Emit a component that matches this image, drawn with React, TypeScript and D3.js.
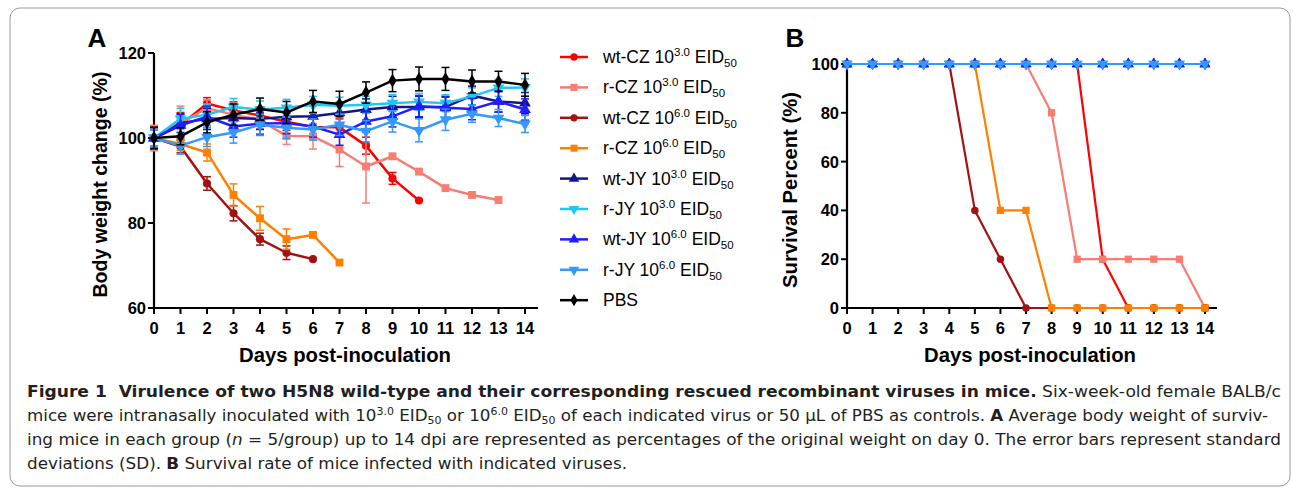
import React from "react";
import * as d3 from "d3";

// ---------- data ----------
const days = d3.range(0, 15);
const yTicksA = [60, 80, 100, 120];
const yTicksB = [0, 20, 40, 60, 80, 100];

// Panel A: mean body weight (%) and SD per day
const wtCZ3 = [100, 103.0, 108.1, 106.5, 105.3, 103.8, 102.6, 102.5, 98.2, 90.5, 85.3];
const wtCZ3sd = [2.8, 3.0, 1.4, 2.0, 2.0, 2.0, 2.0, 2.0, 2.0, 1.4, 0];
const rCZ3 = [100, 103.5, 107.0, 105.5, 104.2, 100.5, 100.4, 97.3, 93.3, 95.7, 92.1, 88.2, 86.6, 85.4];
const rCZ3sd = [3.0, 4.0, 2.0, 2.5, 2.0, 2.0, 3.0, 4.0, 8.6, 0, 0, 0, 0, 0];
const wtCZ6 = [100, 98.0, 89.3, 82.3, 76.2, 73.0, 71.5];
const wtCZ6sd = [2.5, 1.5, 1.6, 1.8, 1.4, 1.6, 0];
const rCZ6 = [100, 98.6, 96.6, 86.6, 81.1, 76.2, 77.2, 70.7];
const rCZ6sd = [2.0, 1.5, 2.0, 2.6, 2.8, 2.4, 0, 0];
const wtJY3 = [100, 103.5, 104.5, 104.7, 104.5, 105.0, 105.1, 105.9, 106.7, 107.3, 107.3, 107.3, 110.0, 108.6, 108.2];
const wtJY3sd = [2.0, 2.2, 2.5, 2.5, 2.5, 2.5, 2.5, 2.5, 2.5, 2.5, 2.5, 2.5, 2.2, 2.5, 2.5];
const rJY3 = [100, 104.5, 105.5, 107.3, 106.7, 107.1, 107.8, 107.6, 107.8, 108.2, 108.5, 108.2, 109.8, 111.8, 111.9];
const rJY3sd = [2.0, 2.5, 2.5, 2.0, 2.0, 2.0, 2.0, 2.0, 2.0, 2.0, 2.0, 2.0, 2.0, 2.0, 2.0];
const wtJY6 = [100, 103.0, 105.0, 102.7, 103.4, 103.5, 102.7, 100.8, 103.9, 105.1, 107.5, 107.1, 106.8, 108.6, 106.7];
const wtJY6sd = [2.0, 2.5, 2.5, 2.5, 2.5, 2.5, 2.5, 2.5, 2.5, 2.5, 2.5, 2.5, 2.5, 2.5, 2.5];
const rJY6 = [100, 98.2, 100.2, 101.3, 103.1, 102.4, 102.0, 103.1, 101.6, 103.9, 101.8, 104.3, 105.7, 104.7, 103.3];
const rJY6sd = [2.0, 2.0, 2.2, 2.5, 2.5, 2.5, 2.5, 2.5, 2.5, 2.5, 2.7, 2.5, 2.0, 2.0, 2.0];
const pbs = [100, 100.4, 103.7, 105.5, 106.8, 106.0, 108.6, 108.0, 110.7, 113.5, 113.9, 113.9, 113.3, 113.3, 112.5];
const pbsSd = [2.5, 2.0, 2.5, 2.5, 2.6, 2.6, 2.6, 3.0, 2.5, 2.6, 2.8, 2.7, 2.7, 2.4, 2.7];

// Panel B: survival percent per day
const survWtCZ3 = [100, 100, 100, 100, 100, 100, 100, 100, 100, 100, 20, 0, 0, 0, 0];
const survRCZ3 = [100, 100, 100, 100, 100, 100, 100, 100, 80, 20, 20, 20, 20, 20, 0];
const survWtCZ6 = [100, 100, 100, 100, 100, 40, 20, 0, 0, 0, 0, 0, 0, 0, 0];
const survRCZ6 = [100, 100, 100, 100, 100, 100, 40, 40, 0, 0, 0, 0, 0, 0, 0];
const survAll = [100, 100, 100, 100, 100, 100, 100, 100, 100, 100, 100, 100, 100, 100, 100];

type S = {
  label: string; sup: string; color: string; sym: string;
  w: number[]; sd: number[]; surv: number[];
};

const series: S[] = [
  { label: "wt-CZ 10", sup: "3.0", color: "#ff0000", sym: "circle", w: wtCZ3, sd: wtCZ3sd, surv: survWtCZ3 },
  { label: "r-CZ 10", sup: "3.0", color: "#f87c72", sym: "square", w: rCZ3, sd: rCZ3sd, surv: survRCZ3 },
  { label: "wt-CZ 10", sup: "6.0", color: "#a31212", sym: "circle", w: wtCZ6, sd: wtCZ6sd, surv: survWtCZ6 },
  { label: "r-CZ 10", sup: "6.0", color: "#ff8000", sym: "square", w: rCZ6, sd: rCZ6sd, surv: survRCZ6 },
  { label: "wt-JY 10", sup: "3.0", color: "#14148c", sym: "up", w: wtJY3, sd: wtJY3sd, surv: survAll },
  { label: "r-JY 10", sup: "3.0", color: "#1ec8f5", sym: "down", w: rJY3, sd: rJY3sd, surv: survAll },
  { label: "wt-JY 10", sup: "6.0", color: "#1e1eff", sym: "up", w: wtJY6, sd: wtJY6sd, surv: survAll },
  { label: "r-JY 10", sup: "6.0", color: "#3399ff", sym: "down", w: rJY6, sd: rJY6sd, surv: survAll },
  { label: "PBS", sup: "", color: "#000000", sym: "diamond", w: pbs, sd: pbsSd, surv: survAll },
];

// ---------- helpers ----------
const symPath = (s: string, scale = 1) => {
  const gen = d3.symbol();
  if (s === "circle") return gen.type(d3.symbolCircle).size(52 * scale)()!;
  if (s === "square") return gen.type(d3.symbolSquare).size(62 * scale)()!;
  if (s === "diamond") return gen.type(d3.symbolDiamond).size(55 * scale)()!;
  return gen.type(d3.symbolTriangle).size(60 * scale)()!;
};
const symTransform = (s: string, x: number, y: number) =>
  s === "down" ? `translate(${x},${y}) rotate(180)` : `translate(${x},${y})`;

const FONT = "Arial, 'Liberation Sans', Helvetica, sans-serif";
const CAP = "'Liberation Sans Narrow', 'DejaVu Sans Condensed', 'Open Sans', sans-serif";

const xA = d3.scaleLinear().domain([0, 14]).range([154, 525]);
const yA = d3.scaleLinear().domain([60, 120]).range([308, 53]);
const xB = d3.scaleLinear().domain([0, 14]).range([847, 1205]);
const yB = d3.scaleLinear().domain([0, 100]).range([308, 64]);

function Axes({ x, y, yTicks, xEnd, title, titleX, yTitle, yTitleX, yTitleLen, letter, letterX }: any) {
  const x0 = x.range()[0];
  const yBot = y.range()[0];
  const yTop = y.range()[1];
  return (
    <g fontFamily={FONT} fontWeight="bold" fill="#000">
      <line x1={x0} x2={xEnd} y1={yBot} y2={yBot} stroke="#000" strokeWidth={2.2} />
      <line x1={x0} x2={x0} y1={yBot} y2={yTop} stroke="#000" strokeWidth={2.2} />
      {days.map((d) => (
        <g key={"xt" + d}>
          <line x1={x(d)} x2={x(d)} y1={yBot} y2={yBot + 6} stroke="#000" strokeWidth={2} />
          <text x={x(d)} y={yBot + 26} textAnchor="middle" fontSize={16.5}>{d}</text>
        </g>
      ))}
      {yTicks.map((t: number) => (
        <g key={"yt" + t}>
          <line x1={x0 - 6} x2={x0} y1={y(t)} y2={y(t)} stroke="#000" strokeWidth={2} />
          <text x={x0 - 8} y={y(t) + 6} textAnchor="end" fontSize={16.5}>{t}</text>
        </g>
      ))}
      <text x={titleX} y={362} textAnchor="middle" fontSize={19.5} textLength={212} lengthAdjust="spacingAndGlyphs">{title}</text>
      <text transform={`translate(${yTitleX},${(yBot + yTop) / 2 + 4}) rotate(-90)`} textAnchor="middle" fontSize={19.5}
        textLength={yTitleLen} lengthAdjust="spacingAndGlyphs">{yTitle}</text>
      <text x={letterX} y={47} textAnchor="middle" fontSize={26}>{letter}</text>
    </g>
  );
}

export default function App() {
  const lineA = (vals: number[]) =>
    d3.line<number>().x((_, i) => xA(days[i])).y((v) => yA(v))(vals)!;
  const lineB = (vals: number[]) =>
    d3.line<number>().x((_, i) => xB(days[i])).y((v) => yB(v))(vals)!;

  const orderA = series; // PBS last (on top)
  const orderB = [series[8], ...series.slice(0, 8)];

  return (
    <svg width={1293} height={490} style={{ position: "absolute", left: 0, top: 0 }}>
      <rect x={0} y={0} width={1293} height={490} fill="#fff" />
      <rect x={10} y={8} width={1280} height={478} rx={10} ry={10} fill="none" stroke="#9a9a9a" strokeWidth={1} />

      {/* Panel A */}
      <Axes x={xA} y={yA} yTicks={yTicksA} xEnd={538} title="Days post-inoculation" titleX={345}
        yTitle="Body weight change (%)" yTitleX={107} yTitleLen={226} letter="A" letterX={97} />
      {orderA.map((s, k) => (
        <g key={"A" + k}>
          {s.w.map((v, i) =>
            s.sd[i] > 0 ? (
              <g key={i} stroke={s.color} strokeWidth={1.5}>
                <line x1={xA(i)} x2={xA(i)} y1={yA(v - s.sd[i])} y2={yA(v + s.sd[i])} />
                <line x1={xA(i) - 4} x2={xA(i) + 4} y1={yA(v - s.sd[i])} y2={yA(v - s.sd[i])} />
                <line x1={xA(i) - 4} x2={xA(i) + 4} y1={yA(v + s.sd[i])} y2={yA(v + s.sd[i])} />
              </g>
            ) : null
          )}
          <path d={lineA(s.w)} fill="none" stroke={s.color} strokeWidth={2.5} strokeLinejoin="round" />
          {s.w.map((v, i) => (
            <path key={"m" + i} d={symPath(s.sym)} transform={symTransform(s.sym, xA(i), yA(v))} fill={s.color} />
          ))}
        </g>
      ))}

      {/* Legend */}
      <g fontFamily={FONT} fill="#000">
        {series.map((s, i) => {
          const cy = 57 + i * 30.4;
          return (
            <g key={"L" + i}>
              <line x1={560} x2={588} y1={cy} y2={cy} stroke={s.color} strokeWidth={2.5} />
              <path d={symPath(s.sym, 0.8)} transform={symTransform(s.sym, 574, cy)} fill={s.color} />
              <text x={603} y={cy + 6} fontSize={17.5}>
                <tspan>{s.label}</tspan>
                {s.sup ? (
                  <>
                    <tspan dy={-7} fontSize={11.5}>{s.sup}</tspan>
                    <tspan dy={7}>{" EID"}</tspan>
                    <tspan dy={4} fontSize={11.5}>50</tspan>
                  </>
                ) : null}
              </text>
            </g>
          );
        })}
      </g>

      {/* Panel B */}
      <Axes x={xB} y={yB} yTicks={yTicksB} xEnd={1217} title="Days post-inoculation" titleX={1030}
        yTitle="Survival Percent (%)" yTitleX={797} yTitleLen={196} letter="B" letterX={795} />
      {orderB.map((s, k) => (
        <g key={"B" + k}>
          <path d={lineB(s.surv)} fill="none" stroke={s.color} strokeWidth={2.2} strokeLinejoin="round" />
          {s.surv.map((v, i) => (
            <path key={"m" + i} d={symPath(s.sym, 0.85)} transform={symTransform(s.sym, xB(i), yB(v))} fill={s.color} />
          ))}
        </g>
      ))}

      {/* Caption */}
      <g fontFamily={CAP} fontSize={16} fill="#231f20">
        <text x={27} y={397} textLength={1254} lengthAdjust="spacingAndGlyphs">
          <tspan fontWeight="bold">{"Figure 1\u00a0\u00a0Virulence of two H5N8 wild-type and their corresponding rescued recombinant viruses in mice."}</tspan>
          <tspan>{" Six-week-old female BALB/c"}</tspan>
        </text>
        <text x={27} y={421} textLength={1241} lengthAdjust="spacingAndGlyphs">
          <tspan>mice were intranasally inoculated with 10</tspan>
          <tspan dy={-6} fontSize={10.5}>3.0</tspan>
          <tspan dy={6}>{" EID"}</tspan>
          <tspan dy={3} fontSize={10.5}>50</tspan>
          <tspan dy={-3}>{" or 10"}</tspan>
          <tspan dy={-6} fontSize={10.5}>6.0</tspan>
          <tspan dy={6}>{" EID"}</tspan>
          <tspan dy={3} fontSize={10.5}>50</tspan>
          <tspan dy={-3}>{" of each indicated virus or 50 µL of PBS as controls. "}</tspan>
          <tspan fontWeight="bold">A</tspan>
          <tspan>{" Average body weight of surviv-"}</tspan>
        </text>
        <text x={27} y={445} textLength={1254} lengthAdjust="spacingAndGlyphs">
          <tspan>{"ing mice in each group ("}</tspan>
          <tspan fontStyle="italic">n</tspan>
          <tspan>{" = 5/group) up to 14 dpi are represented as percentages of the original weight on day 0. The error bars represent standard"}</tspan>
        </text>
        <text x={27} y={469} textLength={600} lengthAdjust="spacingAndGlyphs">
          <tspan>{"deviations (SD). "}</tspan>
          <tspan fontWeight="bold">B</tspan>
          <tspan>{" Survival rate of mice infected with indicated viruses."}</tspan>
        </text>
      </g>
    </svg>
  );
}
